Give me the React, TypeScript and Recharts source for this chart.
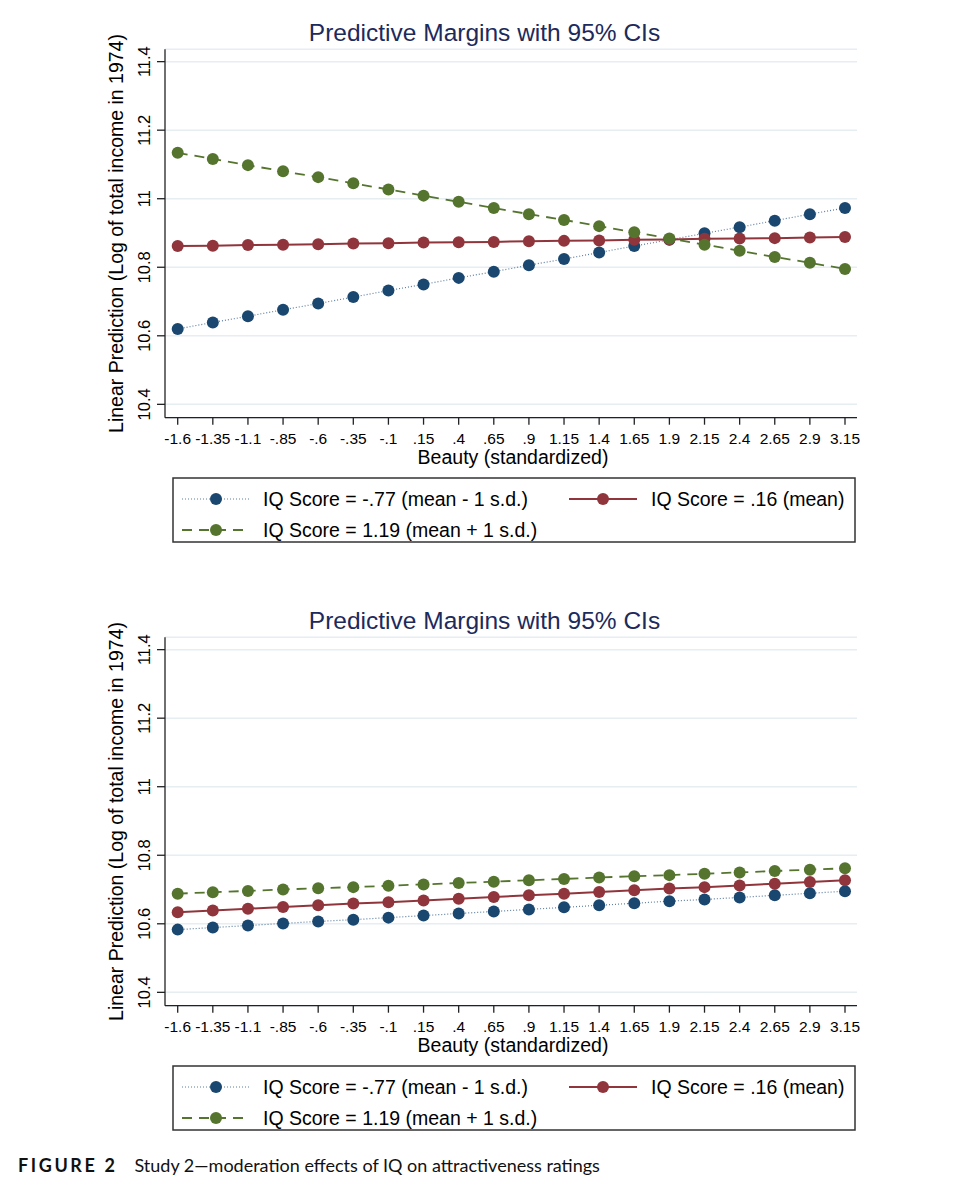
import React from 'react';
import { LineChart, Line, XAxis, YAxis, CartesianGrid } from 'recharts';

// Beauty (standardized) values, as printed on the axis
const beauty = ['-1.6', '-1.35', '-1.1', '-.85', '-.6', '-.35', '-.1', '.15', '.4', '.65', '.9', '1.15', '1.4', '1.65', '1.9', '2.15', '2.4', '2.65', '2.9', '3.15'];
const yTicks = [10.4, 10.6, 10.8, 11, 11.2, 11.4];
const yTickLabels = ['10.4', '10.6', '10.8', '11', '11.2', '11.4'];

// panel 1
const lowIQ1 = [10.62, 10.639, 10.657, 10.676, 10.694, 10.713, 10.732, 10.75, 10.769, 10.787, 10.806, 10.824, 10.843, 10.862, 10.88, 10.899, 10.917, 10.936, 10.955, 10.973];
const meanIQ1 = [10.862, 10.863, 10.865, 10.866, 10.867, 10.869, 10.87, 10.872, 10.873, 10.874, 10.876, 10.877, 10.878, 10.88, 10.881, 10.883, 10.884, 10.885, 10.887, 10.888];
const highIQ1 = [11.134, 11.116, 11.098, 11.08, 11.063, 11.045, 11.027, 11.009, 10.991, 10.973, 10.955, 10.938, 10.92, 10.902, 10.884, 10.866, 10.848, 10.83, 10.813, 10.795];

// panel 2
const lowIQ2 = [10.583, 10.589, 10.595, 10.601, 10.607, 10.612, 10.618, 10.624, 10.63, 10.636, 10.642, 10.648, 10.654, 10.66, 10.666, 10.671, 10.677, 10.683, 10.689, 10.695];
const meanIQ2 = [10.634, 10.639, 10.644, 10.649, 10.654, 10.659, 10.663, 10.668, 10.673, 10.678, 10.683, 10.688, 10.693, 10.698, 10.703, 10.707, 10.712, 10.717, 10.722, 10.727];
const highIQ2 = [10.688, 10.692, 10.696, 10.7, 10.704, 10.707, 10.711, 10.715, 10.719, 10.723, 10.727, 10.731, 10.735, 10.739, 10.742, 10.746, 10.75, 10.754, 10.758, 10.762];

const seriesNames = ['IQ Score = -.77 (mean - 1 s.d.)', 'IQ Score = .16 (mean)', 'IQ Score = 1.19 (mean + 1 s.d.)'];

const FONT = 'Arial, "Liberation Sans", Helvetica, sans-serif';

const series = [
    { key: 'low', name: seriesNames[0], dot: '#1a476f', line: '#5d7ea0', width: 1.2, dash: '1 2' },
    { key: 'mean', name: seriesNames[1], dot: '#90353b', line: '#90353b', width: 2, dash: undefined },
    { key: 'high', name: seriesNames[2], dot: '#55752f', line: '#55752f', width: 1.8, dash: '10 7' },
];

const YTick = ({ x, y, payload }: any) => {
    const idx = yTicks.indexOf(payload.value);
    return (
        <text
            x={x}
            y={y}
            transform={`rotate(-90, ${x}, ${y})`}
            textAnchor="middle"
            fontSize={16.5}
            fontFamily={FONT}
            fill="#000"
        >
            {idx >= 0 ? yTickLabels[idx] : payload.value}
        </text>
    );
};

const LegendSample = ({ s, x, y }: any) => (
    <g>
        <line x1={x} y1={y} x2={x + 68} y2={y} stroke={s.line} strokeWidth={s.width} strokeDasharray={s.dash} />
        <circle cx={x + 34} cy={y} r={6} fill={s.dot} />
    </g>
);

const Panel = ({ top, low, mean, high }: any) => {
    const data = beauty.map((b, i) => ({ x: b, low: low[i], mean: mean[i], high: high[i] }));
    return (
        <div style={{ position: 'absolute', left: 0, top, width: 974, height: 560 }}>
            <LineChart
                width={974}
                height={470}
                data={data}
                margin={{ top: 49.3, right: 117, bottom: 22.3, left: 105 }}
            >
                <CartesianGrid vertical={false} stroke="#e6eef1" strokeWidth={1.5} />
                <XAxis
                    dataKey="x"
                    type="category"
                    interval={0}
                    height={30}
                    padding={{ left: 12.7, right: 12 }}
                    axisLine={{ stroke: '#222', strokeWidth: 1.3 }}
                    tickLine={{ stroke: '#222', strokeWidth: 1.3 }}
                    tickSize={7}
                    tickMargin={8}
                    tick={{ fontSize: 15.5, fontFamily: FONT, fill: '#000' }}
                />
                <YAxis
                    type="number"
                    width={60}
                    domain={[10.361, 11.436]}
                    ticks={yTicks}
                    allowDataOverflow
                    axisLine={{ stroke: '#222', strokeWidth: 1.3 }}
                    tickLine={{ stroke: '#222', strokeWidth: 1.3 }}
                    tickSize={8}
                    tickMargin={7}
                    tick={<YTick />}
                />
                {series.map((s) => (
                    <Line
                        key={s.key}
                        dataKey={s.key}
                        name={s.name}
                        type="linear"
                        stroke={s.line}
                        strokeWidth={s.width}
                        strokeDasharray={s.dash}
                        dot={{ r: 6, fill: s.dot, stroke: 'none', strokeDasharray: undefined }}
                        activeDot={false}
                        isAnimationActive={false}
                    />
                ))}
            </LineChart>
            <svg
                width={974}
                height={560}
                style={{ position: 'absolute', left: 0, top: 0, pointerEvents: 'none' }}
            >
                <text x={484.5} y={41} textAnchor="middle" fontSize={24.5} fontFamily={FONT} fill="#1c2a5c">
                    Predictive Margins with 95% CIs
                </text>
                <text
                    transform="translate(123, 233.5) rotate(-90)"
                    textAnchor="middle"
                    fontSize={19.5}
                    fontFamily={FONT}
                    fill="#000"
                >
                    Linear Prediction (Log of total income in 1974)
                </text>
                <text x={513} y={464} textAnchor="middle" fontSize={19.5} fontFamily={FONT} fill="#000">
                    Beauty (standardized)
                </text>
                <rect x={173} y={478} width={682} height={64} fill="#fff" stroke="#333" strokeWidth={1.5} />
                <LegendSample s={series[0]} x={182} y={499} />
                <text x={263} y={506} fontSize={19.5} fontFamily={FONT} fill="#000">{series[0].name}</text>
                <LegendSample s={series[1]} x={569} y={499} />
                <text x={651} y={506} fontSize={19.5} fontFamily={FONT} fill="#000">{series[1].name}</text>
                <LegendSample s={series[2]} x={182} y={530} />
                <text x={263} y={537} fontSize={19.5} fontFamily={FONT} fill="#000">{series[2].name}</text>
            </svg>
        </div>
    );
};

const App: React.FC = () => (
    <div style={{ position: 'absolute', left: 0, top: 0, width: 974, height: 1200, background: '#fff' }}>
        <Panel top={0} low={lowIQ1} mean={meanIQ1} high={highIQ1} />
        <Panel top={588} low={lowIQ2} mean={meanIQ2} high={highIQ2} />
        <div
            style={{
                position: 'absolute',
                left: 18,
                top: 1152,
                fontFamily: 'Lato, "Open Sans", sans-serif',
                fontSize: 18,
                lineHeight: '26px',
                color: '#111',
                whiteSpace: 'nowrap',
            }}
        >
            <span style={{ fontWeight: 700, letterSpacing: 2.6 }}>FIGURE 2</span>
            <span style={{ marginLeft: 17 }}>Study 2—moderation effects of IQ on attractiveness ratings</span>
        </div>
    </div>
);

export default App;
